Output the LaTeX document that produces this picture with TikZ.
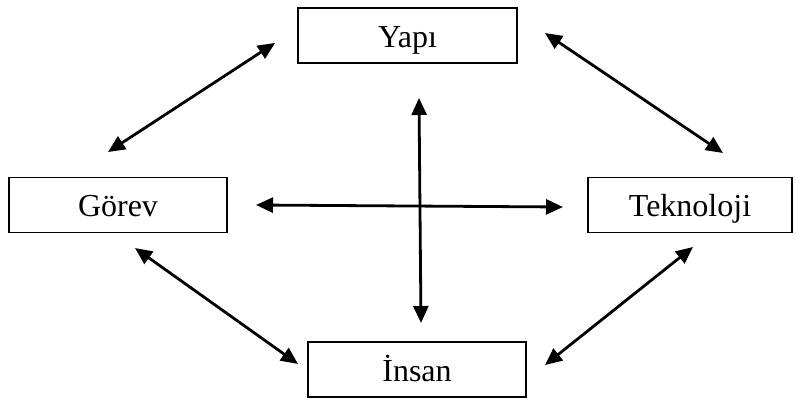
\documentclass[tikz,border=0pt]{standalone}
\usepackage{fontspec}
\setmainfont{Liberation Serif}
\usetikzlibrary{arrows.meta}
\begin{document}
\begin{tikzpicture}[x=1pt,y=-1pt,
  boxnode/.style={draw,line width=1.5pt,minimum height=55pt,inner sep=0pt,
    font=\fontsize{32}{38}\selectfont,text height=24pt,text depth=0pt},
  link/.style={line width=2.8pt,{Triangle[length=17pt,width=15pt]}-{Triangle[length=17pt,width=15pt]}}]
\useasboundingbox (0,0) rectangle (796,401);
\node[boxnode,minimum width=219pt] (yapi) at (407.5,35.5) {Yapı};
\node[boxnode,minimum width=218pt] (gorev) at (118,205) {Görev};
\node[boxnode,minimum width=204pt] (tek) at (690,205) {Teknoloji};
\node[boxnode,minimum width=218pt] (insan) at (417,369.5) {İnsan};
\coordinate (a1) at (275,43);
\coordinate (a2) at (108,152);
\coordinate (b1) at (545,33);
\coordinate (b2) at (723,153);
\coordinate (c1) at (256,205);
\coordinate (c2) at (563,207);
\coordinate (d1) at (419,98);
\coordinate (d2) at (421,323);
\coordinate (e1) at (135,248);
\coordinate (e2) at (298,364);
\coordinate (f1) at (693,247);
\coordinate (f2) at (545,365);
\draw[link] (a2) -- (a1);
\draw[link] (b1) -- (b2);
\draw[link] (c1) -- (c2);
\draw[link] (d1) -- (d2);
\draw[link] (e1) -- (e2);
\draw[link] (f2) -- (f1);
\end{tikzpicture}
\end{document}
